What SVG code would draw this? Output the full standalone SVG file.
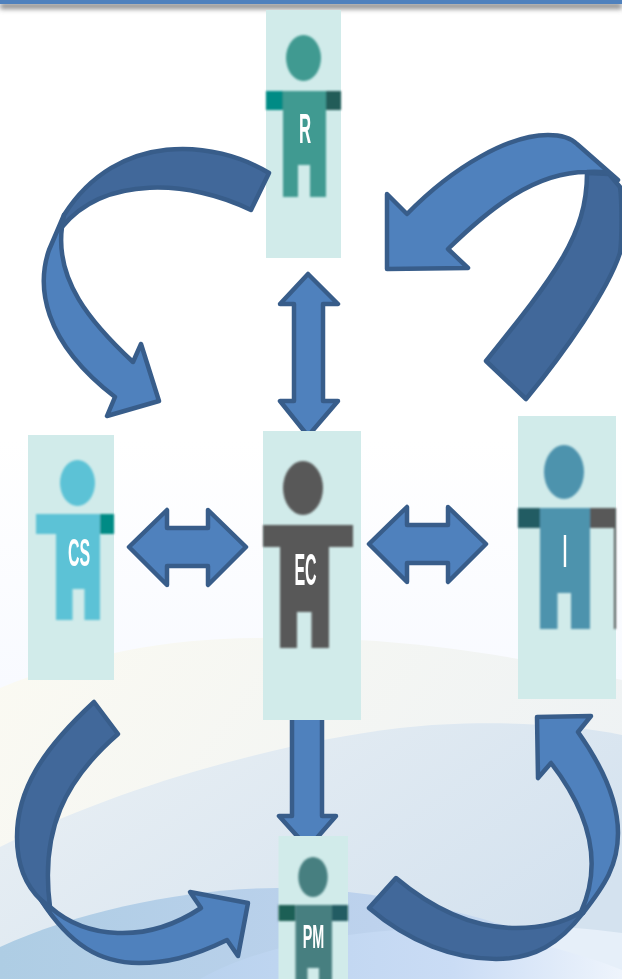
<svg xmlns="http://www.w3.org/2000/svg" width="622" height="979" viewBox="0 0 622 979">
<style>
.card{fill:#d1ebea}
.lt{fill:#4f81bd;stroke:#385d8a;stroke-width:4.500;stroke-linejoin:round}
.dk{fill:#41689a;stroke:#385d8a;stroke-width:4.500;stroke-linejoin:round}
.lbl{font-family:"Liberation Sans",Arial,sans-serif;font-size:40px;font-weight:700;fill:#fff;text-anchor:middle;filter:url(#txt)}
.fig{filter:url(#soft)}
</style>
<defs>
<filter id="soft" x="-10%" y="-10%" width="120%" height="120%"><feGaussianBlur stdDeviation="0.8"/></filter>
<filter id="txt" x="-20%" y="-20%" width="140%" height="140%"><feGaussianBlur stdDeviation="0.6"/></filter>
<filter id="sh" x="0" y="-100%" width="100%" height="400%"><feGaussianBlur stdDeviation="2.500"/></filter>
<linearGradient id="bg" x1="0" y1="0" x2="0" y2="1"><stop offset="0.45" stop-color="#fff"/><stop offset="0.7" stop-color="#f8faff"/></linearGradient>
<linearGradient id="b1" x1="0" y1="0" x2="1" y2="0.4"><stop offset="0" stop-color="#fbfaf2"/><stop offset="1" stop-color="#eef2f4"/></linearGradient>
<linearGradient id="b2" x1="0" y1="0" x2="1" y2="0.6"><stop offset="0" stop-color="#eaf0f4"/><stop offset="1" stop-color="#d4e2ef"/></linearGradient>
<linearGradient id="b3" x1="0" y1="0" x2="1" y2="0"><stop offset="0" stop-color="#aecde4"/><stop offset="0.6" stop-color="#bdd2ed"/><stop offset="1" stop-color="#cfe0f4"/></linearGradient>
<linearGradient id="b4" x1="0" y1="0" x2="1" y2="0"><stop offset="0" stop-color="#b9d2ee"/><stop offset="0.6" stop-color="#cadcf5"/><stop offset="1" stop-color="#eef4fc"/></linearGradient>
<clipPath id="c1"><rect x="260" y="260" width="100" height="171"/></clipPath>
<clipPath id="c2"><rect x="260" y="720" width="100" height="116"/></clipPath>
</defs>
<g id="background">
<rect width="622" height="979" fill="url(#bg)"/>
<path d="M0,688 C80,655 170,638 258,638 C360,636 470,645 622,680 V979 H0 Z" fill="url(#b1)"/>
<path d="M0,847 C100,795 260,745 400,728 C470,720 560,722 622,735 V979 H0 Z" fill="url(#b2)"/>
<path d="M0,947 C80,910 190,888 278,888 C400,888 520,925 622,970 V979 H0 Z" fill="url(#b3)"/>
<path d="M255,979 C300,950 370,930 440,928 C510,925 570,925 622,933 V979 Z" fill="#e6eff9"/>
<path d="M200,979 C260,945 350,930 440,928 C480,930 560,945 622,970 V979 Z" fill="url(#b4)"/>
<rect y="3" width="622" height="6" fill="#8a8a8a" filter="url(#sh)"/>
<rect width="622" height="4" fill="#4f81bd"/>
</g>
<g id="node-R">
<rect class="card" x="266" y="10" width="75" height="248"/>
<g class="fig">
<ellipse cx="303.500" cy="58" rx="17.500" ry="23" fill="#3f9a91"/>
<rect x="266" y="91" width="17" height="19" fill="#008b85"/>
<rect x="326" y="91" width="15" height="19" fill="#235b58"/>
<path d="M283,91H326V197H310V165H298V197H283Z" fill="#3f9a91"/>
</g>
<text class="lbl" transform="translate(305,143) scale(0.42,1.04)">R</text>
</g>
<g id="node-CS">
<rect class="card" x="28" y="435" width="86" height="245"/>
<g class="fig">
<ellipse cx="77.500" cy="483" rx="17.500" ry="23" fill="#5bc2d6"/>
<rect x="36" y="514" width="64" height="20" fill="#5bc2d6"/>
<rect x="100" y="514" width="14" height="20" fill="#008b85"/>
<path d="M56,530H100V620H84.500V589H72.500V620H56Z" fill="#5bc2d6"/>
</g>
<text class="lbl" transform="translate(79,566) scale(0.4,0.98)">CS</text>
</g>
<g id="node-EC">
<rect class="card" x="263" y="431" width="98" height="289"/>
<g class="fig">
<ellipse cx="303" cy="488" rx="20" ry="27" fill="#595959"/>
<rect x="263" y="525" width="90" height="22" fill="#595959"/>
<path d="M280,540H329V648H311.500V612H297V648H280Z" fill="#595959"/>
</g>
<text class="lbl" transform="translate(305.500,585) scale(0.4,1.12)">EC</text>
</g>
<g id="node-I">
<rect class="card" x="518" y="416" width="98" height="283"/>
<g class="fig">
<ellipse cx="564" cy="472" rx="20" ry="27" fill="#4d93ad"/>
<rect x="518" y="508" width="22" height="20" fill="#235b63"/>
<rect x="590" y="508" width="26" height="20" fill="#595959"/>
<rect x="614" y="528" width="2" height="101" fill="#595959"/>
<path d="M540,508H590V629H571V593H557.500V629H540Z" fill="#4d93ad"/>
</g>
<text class="lbl" transform="translate(565,567) scale(0.4,1.15)">I</text>
</g>
<g id="node-PM">
<rect class="card" x="278.500" y="836" width="69.500" height="143"/>
<g class="fig">
<ellipse cx="313" cy="877" rx="14.700" ry="20" fill="#477f80"/>
<rect x="278.500" y="905" width="17" height="16" fill="#1e5f55"/>
<rect x="332" y="905" width="16" height="16" fill="#235b63"/>
<path d="M295.500,905H332V985H319V968H307.500V985H295.500Z" fill="#477f80"/>
</g>
<text class="lbl" transform="translate(313.500,948) scale(0.36,0.84)">PM</text>
</g>
<g id="connectors">
<path class="lt" d="M64,215 L49,250 C37,285 41,340 115,397 L107,416 L159,401 L141,344 L133,362 C90,322 55,280 62,227 Z"/>
<path class="dk" d="M269,173 C215,140 118,130 64,215 L62,227 C105,175 190,180 251,210 Z"/>
<path class="dk" d="M587,173 C587,235 555,275 486,361 L526,399 C565,352 608,290 620,253 C622,240 622,200 620,187 L609,174 Z"/>
<path class="lt" d="M387,194 L407,214 C455,165 510,135 548,135 Q568,135 577,144 L618,180 L609,173 Q598,171 587,172 C535,172 490,208 448,249 L468,268 L387,269 Z"/>
<path class="lt" clip-path="url(#c1)" d="M308,274 L338,304 H323 V401 H338 L308,436 L280,401 H294 V304 H280 Z"/>
<path class="lt" d="M129,547 L167,510 V528 H208 V510 L246,547 L208,585 V566 H167 V585 Z"/>
<path class="lt" d="M369,544 L407,507 V525 H448 V507 L486,544 L448,582 V563 H407 V582 Z"/>
<path class="lt" clip-path="url(#c2)" d="M292,715 H322 V816 H336 L308,848 L279,816 H292 Z"/>
<path class="dk" d="M94,702 L118,734 C65,780 40,830 50,907 L52,915 L41,900 C25,885 17,865 17,837 C17,790 42,750 94,702 Z"/>
<path class="lt" d="M50,907 C85,938 145,945 201,908 L190,892 L248,903 L238,956 L227,940 C190,958 165,963 139,963 C100,963 70,945 41,900 Z"/>
<path class="dk" d="M396,878 L369,908 C410,943 455,959 496,959 C535,959 560,943 583,913 L581,912 C565,922 545,928 516,928 C480,928 440,915 396,878 Z"/>
<path class="lt" d="M581,912 C600,870 595,820 551,763 L538,778 L537,717 L591,716 L578,732 C605,770 618,805 618,833 C618,865 605,885 583,913 Z"/>
</g>
</svg>
